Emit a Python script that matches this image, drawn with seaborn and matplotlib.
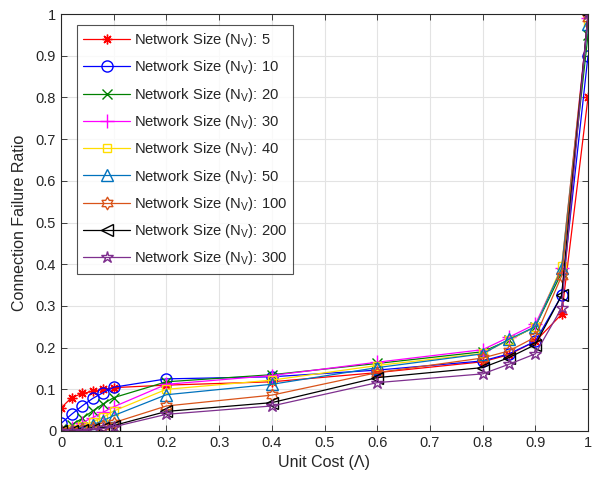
import numpy as np
import pandas as pd
import matplotlib
matplotlib.use("Agg")
import matplotlib.pyplot as plt
from matplotlib.path import Path
from matplotlib.ticker import FixedLocator, FuncFormatter
import seaborn as sns

# ---- data ----
unit_cost = [0, 0.02, 0.04, 0.06, 0.08, 0.1, 0.2, 0.4, 0.6, 0.8, 0.85, 0.9, 0.95, 1.0]
sizes = [5, 10, 20, 30, 40, 50, 100, 200, 300]
ratio_5 = [0.055, 0.08, 0.09, 0.095, 0.1, 0.104, 0.11, 0.118, 0.14, 0.166, 0.183, 0.215, 0.28, 0.80]
ratio_10 = [0.018, 0.04, 0.06, 0.078, 0.092, 0.105, 0.125, 0.13, 0.146, 0.168, 0.185, 0.215, 0.325, 0.90]
ratio_20 = [0.005, 0.015, 0.03, 0.048, 0.065, 0.08, 0.118, 0.135, 0.162, 0.19, 0.218, 0.25, 0.38, 0.95]
ratio_30 = [0.002, 0.008, 0.02, 0.032, 0.045, 0.058, 0.112, 0.133, 0.165, 0.195, 0.225, 0.256, 0.39, 0.99]
ratio_40 = [0.001, 0.005, 0.012, 0.022, 0.033, 0.048, 0.10, 0.122, 0.157, 0.186, 0.218, 0.25, 0.395, 0.98]
ratio_50 = [0.0, 0.003, 0.008, 0.015, 0.025, 0.037, 0.087, 0.112, 0.152, 0.185, 0.22, 0.25, 0.39, 0.975]
ratio_100 = [0.0, 0.001, 0.004, 0.008, 0.013, 0.02, 0.06, 0.086, 0.14, 0.175, 0.192, 0.225, 0.372, 0.99]
ratio_200 = [0.0, 0.0, 0.002, 0.004, 0.008, 0.013, 0.047, 0.068, 0.128, 0.152, 0.176, 0.207, 0.325, 1.0]
ratio_300 = [0.0, 0.0, 0.001, 0.003, 0.006, 0.01, 0.04, 0.06, 0.116, 0.137, 0.16, 0.185, 0.295, 1.0]
all_ratios = [ratio_5, ratio_10, ratio_20, ratio_30, ratio_40, ratio_50, ratio_100, ratio_200, ratio_300]
x_ticks = [0, 0.1, 0.2, 0.3, 0.4, 0.5, 0.6, 0.7, 0.8, 0.9, 1.0]
y_ticks = [0, 0.1, 0.2, 0.3, 0.4, 0.5, 0.6, 0.7, 0.8, 0.9, 1.0]

# ---- styles ----
def hexagram():
    verts = []
    for i in range(12):
        ang = np.pi / 2 + i * np.pi / 6
        r = 1.0 if i % 2 == 0 else 1 / np.sqrt(3)
        verts.append((r * np.cos(ang), r * np.sin(ang)))
    verts.append(verts[0])
    codes = [Path.MOVETO] + [Path.LINETO] * 11 + [Path.CLOSEPOLY]
    return Path(verts, codes)

colors = ["#ff0000", "#0000ff", "#008000", "#ff00ff", "#ffdd00",
          "#0072bd", "#d95319", "#000000", "#7e2f8e"]
markers = [(8, 2, 0), "o", "x", "+", "s", "^", hexagram(), "<", "*"]
msizes = [7, 8, 7, 10, 6, 8, 9, 8, 9]

sns.set_style("white")
plt.rcParams["font.family"] = ["Liberation Sans", "DejaVu Sans"]
plt.rcParams["mathtext.fontset"] = "custom"
plt.rcParams["mathtext.rm"] = "Liberation Sans"
plt.rcParams["mathtext.it"] = "Liberation Sans"
plt.rcParams["mathtext.default"] = "rm"

fig, ax = plt.subplots(figsize=(5.93, 4.82), dpi=100)
fig.subplots_adjust(left=61 / 593, right=588 / 593, top=1 - 14 / 482, bottom=1 - 431 / 482)

rows = []
for s, r in zip(sizes, all_ratios):
    for xv, yv in zip(unit_cost, r):
        rows.append({"cost": xv, "ratio": yv, "size": s})
df = pd.DataFrame(rows)

for i, s in enumerate(sizes):
    sub = df[df["size"] == s]
    sns.lineplot(data=sub, x="cost", y="ratio", ax=ax, color=colors[i],
                 marker=markers[i], markersize=msizes[i],
                 markerfacecolor="none", markeredgecolor=colors[i],
                 markeredgewidth=1.0, linewidth=0.9,
                 label=f"Network Size (N$_V$): {s}", errorbar=None, sort=False)

ax.set_xlim(0, 1)
ax.set_ylim(0, 1)
ax.xaxis.set_major_locator(FixedLocator(x_ticks))
ax.yaxis.set_major_locator(FixedLocator(y_ticks))
fmt = FuncFormatter(lambda v, p: f"{v:g}")
ax.xaxis.set_major_formatter(fmt)
ax.yaxis.set_major_formatter(fmt)
ax.grid(True, color="#e3e3e3", linewidth=0.8)
ax.set_axisbelow(True)
ax.tick_params(direction="in", length=4, width=0.6, colors="#262626",
               labelsize=10.5, top=True, right=True, bottom=True, left=True,
               labelcolor="#262626")
for sp in ax.spines.values():
    sp.set_visible(True)
    sp.set_color("#262626")
    sp.set_linewidth(0.8)

ax.set_xlabel("Unit Cost (Λ)", fontsize=11.5, color="#262626", labelpad=4)
ax.set_ylabel("Connection Failure Ratio", fontsize=11.5, color="#262626", labelpad=6)

leg = ax.legend(loc="upper left", bbox_to_anchor=(16 / 527, 1 - 11 / 417),
                fontsize=10.6, handlelength=3.2, labelspacing=0.63,
                handletextpad=0.22, borderpad=0.42, borderaxespad=0,
                fancybox=False, frameon=True)
leg.get_frame().set_edgecolor("#262626")
leg.get_frame().set_linewidth(0.8)

fig.savefig("out.png", dpi=100, facecolor="white")
